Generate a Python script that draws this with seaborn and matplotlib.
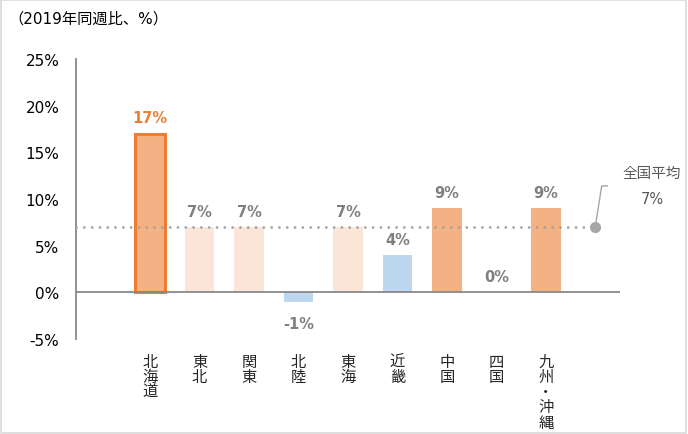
import numpy as np
import matplotlib
matplotlib.use("Agg")
import matplotlib.pyplot as plt
import pandas as pd
import seaborn as sns
from matplotlib.patches import Rectangle

regions = ["北海道", "東北", "関東", "北陸", "東海", "近畿", "中国", "四国", "九州・沖縄"]
values = [17, 7, 7, -1, 7, 4, 9, 0, 9]
colors = ["#F4B183", "#FBE5D6", "#FBE5D6", "#BDD7EE", "#FBE5D6", "#BDD7EE", "#F4B183", "#F4B183", "#F4B183"]
national_avg = 7
yticks = [-5, 0, 5, 10, 15, 20, 25]

sns.set_style("white")
plt.rcParams["font.family"] = ["DejaVu Sans", "Noto Sans CJK JP"]

df = pd.DataFrame({"region": regions, "value": values})
# empty slots on both ends of the axis
order = ["_l"] + regions + ["_r"]

fig = plt.figure(figsize=(6.88, 4.35), dpi=100)
ax = fig.add_axes([76 / 688, 1 - 340 / 435, 544 / 688, 280 / 435])

sns.barplot(data=df, x="region", y="value", hue="region", order=order,
            palette=dict(zip(regions, colors)), width=0.6, legend=False, ax=ax,
            linewidth=0, saturation=1)

# highlight Hokkaido
hk = ax.patches[0]
hk.set_edgecolor("#ED7D31")
hk.set_linewidth(2.2)

ax.set_xlim(-0.5, 10.5)
ax.set_ylim(-5, 25)
ax.set_yticks(yticks)
ax.set_yticklabels([f"{t}%" for t in yticks], fontsize=11, color="#000000")
ax.tick_params(axis="y", length=0, pad=12)
ax.tick_params(axis="x", length=0, pad=10)
ax.set_xticks(range(len(order)))
ax.set_xticklabels([""] + ["\n".join(r) for r in regions] + [""],
                   fontsize=11, va="top", linespacing=0.86,
                   family=["Noto Sans CJK JP", "DejaVu Sans"])
ax.set_xlabel("")
ax.set_ylabel("")

for s in ["top", "right", "bottom"]:
    ax.spines[s].set_visible(False)
ax.spines["left"].set_color("#898989")
ax.spines["left"].set_linewidth(1.3)
ax.axhline(0, color="#898989", lw=1.3, zorder=3)

# national average line + marker
ax.plot([-0.5, 10], [national_avg, national_avg], color="#A0A0A0", lw=2.0,
        linestyle=(0, (0.01, 2.8)), dash_capstyle="round", zorder=4)
ax.plot([10], [national_avg], "o", color="#A6A6A6", ms=7, zorder=5, clip_on=False)
ax.plot([10, 10.13, 10.25], [national_avg, 11.4, 11.4], color="#A6A6A6", lw=1,
        clip_on=False, zorder=5)
ax.text(11.15, 12.8, "全国平均", ha="center", va="center", fontsize=10.5, color="#595959",
        clip_on=False, family=["Noto Sans CJK JP", "DejaVu Sans"])
ax.text(11.15, 10.1, f"{national_avg}%", ha="center", va="center", fontsize=10.5,
        color="#595959", clip_on=False)

# value labels
for i, v in enumerate(values):
    x = i + 1
    c = "#ED7D31" if i == 0 else "#7F7F7F"
    if v < 0:
        ax.annotate(f"{v}%", (x, v), xytext=(0, -10), textcoords="offset points",
                    ha="center", va="top", fontsize=10.5, fontweight="bold", color=c)
    else:
        ax.annotate(f"{v}%", (x, v), xytext=(0, 6), textcoords="offset points",
                    ha="center", va="bottom", fontsize=10.5, fontweight="bold", color=c)

fig.text(8 / 688, 1 - 19 / 435, "（2019年同週比、%）", ha="left", va="center",
         fontsize=11, color="#000000")

fig.patches.append(Rectangle((0.001, 0.002), 0.996, 0.995, transform=fig.transFigure,
                             fill=False, edgecolor="#D9D9D9", lw=1.2))

fig.savefig("out.png", dpi=100)
